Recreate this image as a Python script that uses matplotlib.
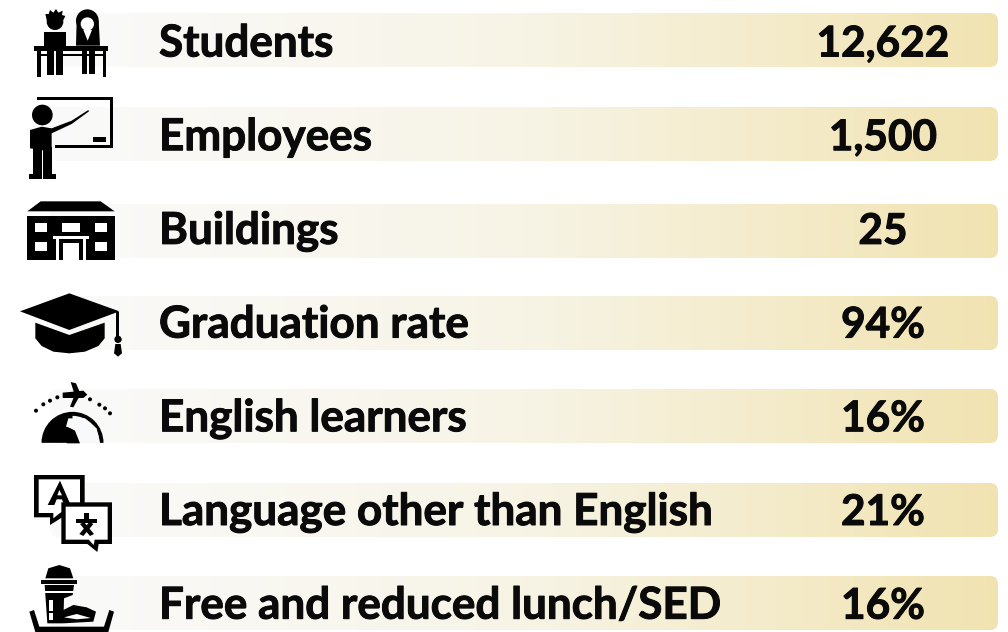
import matplotlib
matplotlib.use("Agg")
import matplotlib.pyplot as plt
from matplotlib.colors import LinearSegmentedColormap
from matplotlib.patches import Circle, FancyBboxPatch, Polygon, Rectangle, Wedge
import matplotlib.patheffects as pe
import numpy as np

labels = ["Students", "Employees", "Buildings", "Graduation rate", "English learners",
          "Language other than English", "Free and reduced lunch/SED"]
values = ["12,622", "1,500", "25", "94%", "16%", "21%", "16%"]

plt.rcParams['font.family'] = ['Lato', 'DejaVu Sans']

fig = plt.figure(figsize=(10.08, 6.32), dpi=100)
ax = fig.add_axes([0, 0, 1, 1])
ax.set_xlim(0, 1008)
ax.set_ylim(632, 0)
ax.axis("off")

grad = LinearSegmentedColormap.from_list("bar", ["#fafafa", "#f7f4e6", "#f1e3b1"])
ramp = np.linspace(0, 1, 256).reshape(1, -1)
tops = [13, 107, 204, 296, 389, 483, 576]
BAR_H = 54
bold = [pe.withStroke(linewidth=0.7, foreground="#0a0a0a")]

for i, (lab, val) in enumerate(zip(labels, values)):
    top = tops[i]
    base = 56.5 + 93.7 * i
    box = FancyBboxPatch((58, top + 8), 932, BAR_H - 16, boxstyle="round,pad=8,rounding_size=8",
                         mutation_aspect=1, ec="none", fc="none")
    ax.add_patch(box)
    im = ax.imshow(ramp, extent=(50, 998, top + BAR_H, top), cmap=grad, aspect="auto", zorder=1)
    im.set_clip_path(box)
    ax.text(159, base, lab, fontsize=31.7, fontweight="bold", va="baseline", ha="left",
            color="#0a0a0a", zorder=3, path_effects=bold)
    ax.text(883, base, val, fontsize=30.5, fontweight="bold", va="baseline", ha="center",
            color="#0a0a0a", zorder=3, path_effects=bold)
ax.set_xlim(0, 1008)
ax.set_ylim(632, 0)


# icons are traced in the 3x zoom coordinates, dy is the zoom's top edge
def rect(x0, y0, x1, y1, dy=0, c="black"):
    ax.add_patch(Rectangle((x0 / 3, y0 / 3 + dy), (x1 - x0) / 3, (y1 - y0) / 3, fc=c, ec="none", zorder=4))


def poly(pts, dy=0, c="black"):
    ax.add_patch(Polygon([(x / 3, y / 3 + dy) for x, y in pts], closed=True, fc=c, ec="none", zorder=4))


def circ(x, y, r, dy=0, c="black"):
    ax.add_patch(Circle((x / 3, y / 3 + dy), r / 3, fc=c, ec="none", zorder=4))


# students
rect(102, 137, 324, 152)
rect(112, 152, 122, 230)
rect(308, 152, 318, 230)
rect(133, 97, 198, 137)
rect(140, 152, 162, 225)
rect(168, 152, 190, 225)
rect(122, 163, 140, 168)
rect(190, 163, 308, 168)
circ(165, 65, 25)
poly([(136, 42), (146, 42), (150, 30), (160, 38), (168, 27), (175, 38), (188, 32), (186, 45), (196, 48),
      (190, 60), (140, 60)])
circ(262, 62, 34)
poly([(230, 62), (296, 62), (300, 137), (228, 137)])
circ(262, 72, 20, c="white")
poly([(250, 90), (276, 90), (263, 122)], c="white")
rect(246, 152, 262, 222)
rect(268, 152, 284, 222)

# employees: board, pointer and figure
rect(110, 291, 338, 301)
rect(329, 291, 338, 444)
rect(165, 434, 338, 444)
rect(278, 410, 318, 425)
circ(127, 345, 31)
poly([(90, 390), (125, 380), (155, 385), (215, 362), (265, 330), (267, 334), (215, 372), (155, 400),
      (155, 455), (90, 445)])
rect(100, 440, 125, 525)
rect(130, 440, 155, 525)
rect(86, 522, 125, 536)
rect(130, 522, 168, 536)

# buildings
poly([(82, 634), (122, 604), (302, 604), (344, 634)])
rect(82, 648, 344, 780)
for x0, x1 in [(105, 141), (186, 240), (284, 320)]:
    rect(x0, 670, x1, 695, c="white")
for x0, x1 in [(105, 141), (284, 320)]:
    rect(x0, 727, x1, 752, c="white")
rect(158, 708, 268, 718, c="white")
rect(168, 718, 178, 780, c="white")
rect(248, 718, 258, 780, c="white")
rect(190, 730, 236, 780, c="white")

# graduation cap
D = 270
poly([(60, 124), (208, 70), (358, 124), (208, 180)], D)
poly([(106, 158), (208, 195), (314, 158), (314, 205), (295, 228), (255, 245), (208, 250), (160, 245),
      (125, 228), (106, 205)], D)
rect(348, 126, 358, 205, D)
circ(354, 208, 11, D)
poly([(346, 222), (362, 222), (366, 250), (354, 260), (342, 250)], D)

# english learners: plane, dashed arc and globe
poly([(188, 368), (250, 362), (262, 374), (250, 384), (188, 384)], D)
poly([(212, 336), (228, 340), (240, 368), (222, 368)], D)
poly([(222, 380), (238, 380), (220, 412), (210, 410)], D)
for x, y in [(108, 422), (130, 403), (150, 392), (172, 382), (270, 388), (298, 404), (315, 415), (330, 430)]:
    circ(x, y, 6, D)
ax.add_patch(Wedge((72.5, D + 520 / 3 - 0.5), 31, 180, 360, fc="black", ec="none", zorder=4))
ax.add_patch(Wedge((72.5, D + 520 / 3 - 0.5), 27, 270, 360, fc="#f8f9fb", ec="none", zorder=4))
poly([(205, 445), (255, 445), (290, 475), (300, 520), (240, 520), (222, 480), (198, 470)], D, c="#f8f9fb")
poly([(200, 470), (225, 482), (240, 520), (200, 520)], D)

# language speech bubbles
poly([(102, 615), (254, 615), (254, 710), (190, 740), (150, 765), (150, 742), (102, 742)], D)
poly([(116, 628), (240, 628), (240, 700), (180, 729), (160, 745), (160, 729), (116, 729)], D, c="white")
poly([(180, 632), (212, 705), (192, 705), (186, 688), (170, 688), (163, 705), (143, 705)], D)
poly([(178, 660), (186, 676), (172, 676)], D, c="white")
poly([(184, 697), (336, 697), (336, 822), (296, 822), (292, 846), (262, 822), (184, 822)], D)
poly([(197, 710), (323, 710), (323, 809), (284, 809), (281, 825), (266, 809), (197, 809)], D, c="white")
rect(228, 748, 292, 760, D)
rect(252, 728, 266, 750, D)
poly([(238, 792), (268, 756), (280, 762), (250, 798)], D)
poly([(282, 792), (252, 756), (240, 762), (270, 798)], D)

# lunch: cup and tray
poly([(136, 925), (145, 895), (178, 885), (210, 895), (220, 925)], D)
rect(124, 931, 232, 941, D)
poly([(134, 945), (222, 945), (218, 975), (192, 985), (190, 1060), (142, 1060)], D)
rect(148, 990, 158, 1022, D, c="white")
rect(148, 1030, 158, 1050, D, c="white")
rect(134, 962, 222, 968, D, c="white")
poly([(180, 1025), (220, 1005), (260, 1012), (288, 1025), (280, 1055), (190, 1060)], D)
poly([(192, 1042), (230, 1032), (272, 1044), (230, 1048)], D, c="white")
poly([(88, 1025), (102, 1020), (118, 1070), (312, 1070), (328, 1020), (342, 1025), (325, 1086), (106, 1086)], D)

fig.savefig("out.png", dpi=100)
